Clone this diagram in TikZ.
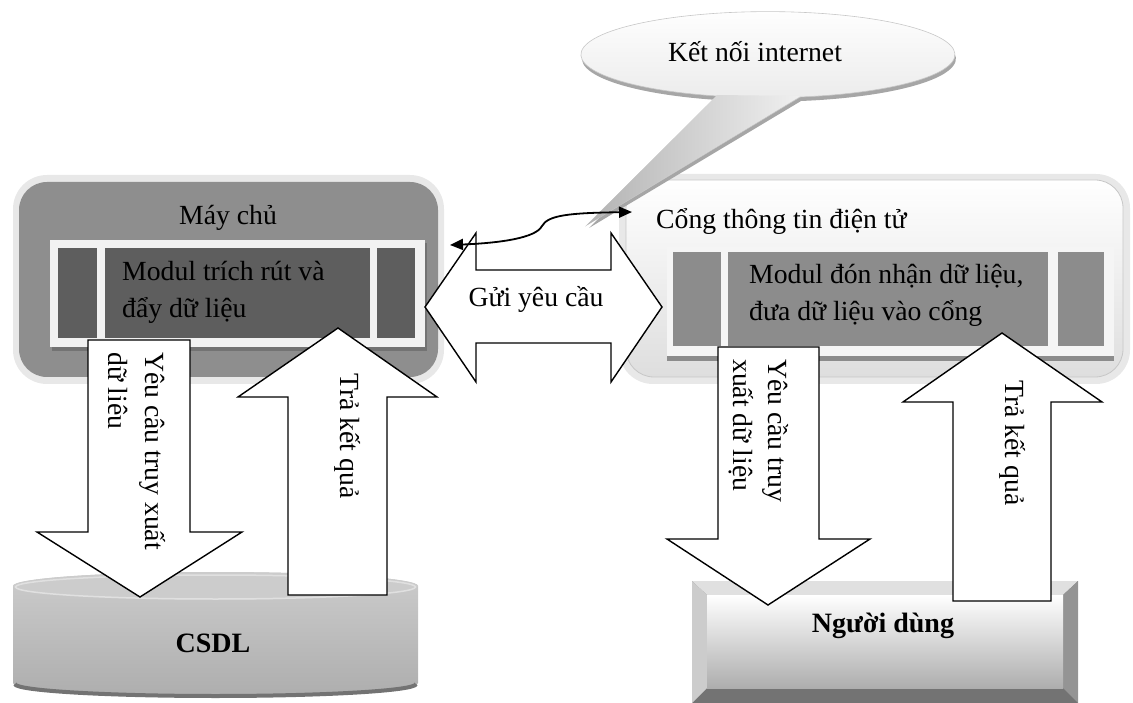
\documentclass[tikz,border=0pt]{standalone}
\usepackage{fontspec}
\setmainfont{Liberation Serif}
\usetikzlibrary{arrows.meta}
\definecolor{srvgray}{HTML}{8E8E8E}
\definecolor{srvdark}{HTML}{5E5E5E}
\definecolor{portalpiece}{HTML}{8C8C8C}
\begin{document}
\begin{tikzpicture}[x=1pt,y=-1pt,
  lbl/.style={font=\fontsize{27.7}{37}\selectfont, inner sep=0pt},
  boldlbl/.style={font=\fontsize{28}{34}\selectfont\bfseries, inner sep=0pt},
  vlbl/.style={lbl, rotate=-90, anchor=base west},
  blockarrow/.style={fill=white, draw=black, line width=1.4pt, line join=miter},
  glow/.style={fill=black!9, rounded corners=34pt},
  linkline/.style={line width=1.8pt,
    {Triangle[length=13pt,width=11pt]}-{Triangle[length=13pt,width=11pt]}},
]
\useasboundingbox (0,0) rectangle (1133,703);

% ---------- server box ----------
\fill[glow] (13,175) rectangle (444,384);
\fill[srvgray, rounded corners=28pt] (19,182) rectangle (438,377);
\fill[black!55] (52,243) rectangle (427,351);
\fill[black!5] (50,240) rectangle (425,347);
\fill[srvdark] (58,248) rectangle (97,338);
\fill[srvdark] (105,248) rectangle (370,338);
\fill[srvdark] (377,248) rectangle (415,338);
\node[lbl, anchor=base] (srvtitle) at (228,225) {Máy chủ};
% base anchor of a two-line node sits on its last line
\node[lbl, anchor=base west, align=left] (srvmod) at (122,318)
  {Modul trích rút và\\đẩy dữ liệu};

% ---------- portal box ----------
\fill[glow] (619,174) rectangle (1130,384);
\shade[top color=white, bottom color=black!13, draw=black!22, line width=0.8pt,
  rounded corners=28pt] (626,180) rectangle (1123,377);
\fill[black!45] (667,355) rectangle (1114,361);
\fill[black!4] (667,247) rectangle (1114,356);
\fill[portalpiece] (673,252) rectangle (721,346);
\fill[portalpiece] (728,252) rectangle (1048,346);
\fill[portalpiece] (1058,252) rectangle (1104,346);
\node[lbl, anchor=base west] (portaltitle) at (656,229) {Cổng thông tin điện tử};
\node[lbl, anchor=base west, align=left] (portalmod) at (749,321)
  {Modul đón nhận dữ liệu,\\đưa dữ liệu vào cổng};

% ---------- database cylinder ----------
\shade[top color=black!20, bottom color=black!32]
  (13,586) -- (13,683) arc[start angle=180, end angle=0, x radius=202.5, y radius=14]
  -- (418,586) arc[start angle=0, end angle=-180, x radius=202.5, y radius=14] -- cycle;
\draw[black!55, line width=4pt]
  (15,684) arc[start angle=180, end angle=0, x radius=200.5, y radius=12];
\fill[black!20] (215.5,586) ellipse[x radius=202.5, y radius=14];
\draw[black!12, line width=1.5pt] (215.5,587) ellipse[x radius=200, y radius=12];
\node[boldlbl, anchor=base] (db) at (213,652) {CSDL};

% ---------- user button ----------
\fill[black!55] (692,581) rectangle (1078,703);
\fill[black!12] (692,581) -- (1078,581) -- (1063,595) -- (707,595) -- cycle;
\fill[black!20] (692,581) -- (707,595) -- (707,688) -- (692,703) -- cycle;
\fill[black!42] (1078,581) -- (1063,595) -- (1063,688) -- (1078,703) -- cycle;
\shade[top color=white, bottom color=black!32] (707,595) rectangle (1063,688);
\node[boldlbl, anchor=base] (user) at (883,632) {Người dùng};

% ---------- speech bubble ----------
\fill[black!35] (718,100) arc[start angle=105.8, end angle=440.1, x radius=187, y radius=43]
  -- (589,228) -- cycle;
\shade[top color=white, bottom color=black!18, draw=black!22, line width=0.6pt]
  (717,96) arc[start angle=105.8, end angle=440.1, x radius=187, y radius=43]
  -- (587,225) -- cycle;
\begin{scope}
  \clip (717,95) -- (800,96) -- (587,225) -- cycle;
  \shade[left color=black!30, right color=black!6] (587,90) rectangle (800,226);
\end{scope}
\node[lbl, anchor=base] (net) at (755,62) {Kết nối internet};

% ---------- request double arrow ----------
\draw[blockarrow] (425,307) -- (476,233) -- (476,270) -- (611,270) -- (611,233)
  -- (662,307) -- (611,382) -- (611,343) -- (476,343) -- (476,382) -- cycle;
\node[lbl, anchor=base] (req) at (536,307) {Gửi yêu cầu};

% ---------- internet link ----------
\coordinate (linkL) at (450,245);
\coordinate (linkR) at (632,212);
\draw[linkline] (linkL)
  .. controls (500,243) and (536,238) .. (542,226)
  .. controls (548,215) and (570,213) .. (linkR);

% ---------- server <-> database ----------
\draw[blockarrow] (88,340) -- (190,340) -- (190,532) -- (242,532) -- (140,597)
  -- (37,532) -- (88,532) -- cycle;
\node[vlbl] (dbq1) at (145,352) {Yêu câu truy xuất};
\begin{scope}
  \clip (108,340) rectangle (190,530);
  \node[vlbl] (dbq2) at (108,352) {dữ liệu};
\end{scope}
\draw[blockarrow] (288,595) -- (288,397) -- (238,397) -- (338,328) -- (437,397)
  -- (387,397) -- (387,595) -- cycle;
\node[vlbl] (dbres) at (340,373) {Trả kết quả};

% ---------- portal <-> user ----------
\draw[blockarrow] (718,347) -- (819,347) -- (819,539) -- (870,539) -- (768,605)
  -- (667,539) -- (718,539) -- cycle;
\node[vlbl] (uq1) at (768,359) {Yêu cầu truy};
\node[vlbl] (uq2) at (733,359) {xuất dữ liệu};
\draw[blockarrow] (953,601) -- (953,402) -- (903,402) -- (1002,333) -- (1102,402)
  -- (1051,402) -- (1051,601) -- cycle;
\node[vlbl] (ures) at (1005,380) {Trả kết quả};
\end{tikzpicture}
\end{document}
